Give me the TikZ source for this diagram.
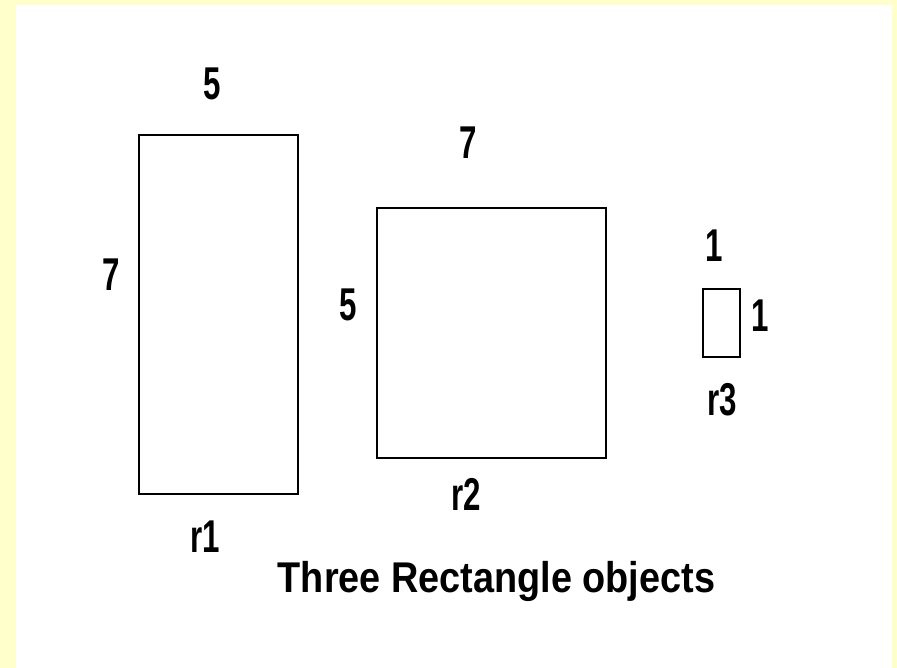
\documentclass[tikz,border=0pt]{standalone}
\usepackage{fontspec}
\setmainfont{Liberation Sans}
\definecolor{bgyellow}{HTML}{FFFFCC}
\begin{document}
\begin{tikzpicture}[x=1pt,y=-1pt,
  box/.style={draw=black, line width=2pt, inner sep=0pt, outer sep=0pt},
  lbl/.style={font=\fontsize{46}{46}\selectfont\bfseries, inner sep=0pt, xscale=0.68, transform shape},
  ttl/.style={font=\fontsize{43}{43}\selectfont\bfseries, inner sep=0pt, xscale=0.88, transform shape}]
\fill[bgyellow] (0,0) rectangle (897,668);
\fill[white] (16,5) rectangle (892,668);
\useasboundingbox (0,0) rectangle (897,668);
% rectangles
\node[box, minimum width=159pt, minimum height=359pt] (r1) at (218.5,314.5) {};
\node[box, minimum width=229pt, minimum height=250pt] (r2) at (491.5,333) {};
\node[box, minimum width=37pt, minimum height=68pt] (r3) at (721.5,323) {};
% labels r1
\node[lbl] (r1w) at (212,84) {5};
\node[lbl] (r1h) at (111,275) {7};
\node[lbl] (r1n) at (205,537) {r1};
% labels r2
\node[lbl] (r2w) at (468,143) {7};
\node[lbl] (r2h) at (348,305) {5};
\node[lbl] (r2n) at (466,494) {r2};
% labels r3
\node[lbl] (r3w) at (714,246) {1};
\node[lbl] (r3h) at (760,316) {1};
\node[lbl] (r3n) at (722,400) {r3};
% title
\node[ttl, anchor=base] (title) at (496.5,592) {Three Rectangle objects};
\end{tikzpicture}
\end{document}
